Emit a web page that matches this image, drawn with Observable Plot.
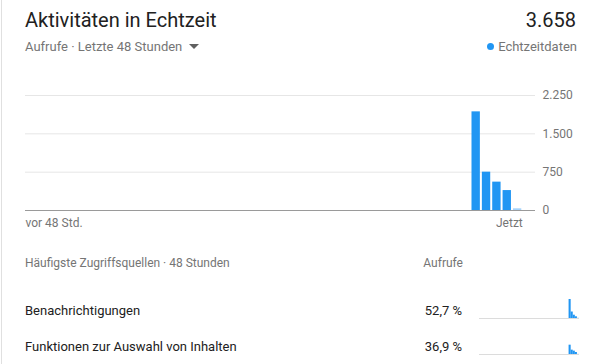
<!DOCTYPE html>
<html><head><meta charset="utf-8">
<script src="https://cdn.jsdelivr.net/npm/d3@7"></script>
<script src="https://cdn.jsdelivr.net/npm/@observablehq/plot@0.6"></script>
<style>
html,body{margin:0;padding:0;background:#fff;}
#card{position:relative;width:593px;height:364px;overflow:hidden;font-family:Roboto,"Noto Sans",sans-serif;background:#fff;}
.abs{position:absolute;white-space:nowrap;}
.border{position:absolute;left:1px;top:0;width:1px;height:364px;background:#e0e0e0;}
.title{left:25px;top:7px;font-size:20px;line-height:26px;color:#212121;}
.total{right:17px;top:7px;font-size:20px;line-height:26px;color:#212121;}
.sub{left:25px;top:38px;font-size:13px;line-height:18px;color:#757575;}
.tri{display:inline-block;width:0;height:0;border-left:5px solid transparent;border-right:5px solid transparent;border-top:5px solid #606060;margin-left:7px;vertical-align:2px;}
.legend{right:16px;top:38px;font-size:13px;line-height:18px;color:#757575;}
.dot{display:inline-block;width:7px;height:7px;border-radius:50%;background:#2196f3;margin-right:4px;vertical-align:1px;}
.hdr{top:255px;font-size:12px;line-height:16px;color:#757575;}
.row{font-size:13px;line-height:18px;color:#212121;}
</style></head>
<body>
<div id="card">
  <div class="border"></div>
  <div class="abs title" id="title"></div>
  <div class="abs total" id="total"></div>
  <div class="abs sub"><span id="sub"></span><span class="tri"></span></div>
  <div class="abs legend"><span class="dot"></span><span id="legend"></span></div>
  <div id="main" class="abs" style="left:0;top:80px;"></div>
  <div class="abs hdr" id="hdrL" style="left:25px;"></div>
  <div class="abs hdr" id="hdrR" style="right:130px;"></div>
  <div class="abs row" id="r1l" style="left:25px;top:302px;"></div>
  <div class="abs row" id="r1p" style="right:131px;top:302px;"></div>
  <div id="s1" class="abs" style="left:479px;top:295px;"></div>
  <div class="abs row" id="r2l" style="left:25px;top:338px;"></div>
  <div class="abs row" id="r2p" style="right:131px;top:338px;"></div>
  <div id="s2" class="abs" style="left:479px;top:331px;"></div>
</div>
<script>
const titleText = "Aktivitäten in Echtzeit";
const totalText = "3.658";
const subtitleText = "Aufrufe · Letzte 48 Stunden";
const legendText = "Echtzeitdaten";
const xLabels = ["vor 48 Std.", "Jetzt"];
const yTicks = [0, 750, 1500, 2250];
// views per hour, oldest (48 h ago) to current hour
const views = [0,0,0,0,0,0,0,0,0,0,0,0,0,0,0,0,0,0,0,0,0,0,0,0,
               0,0,0,0,0,0,0,0,0,0,0,0,0,0,0,0,0,0,0,1930,750,555,390,33];
const sourceHeader = ["Häufigste Zugriffsquellen · 48 Stunden", "Aufrufe"];
const sources = ["Benachrichtigungen", "Funktionen zur Auswahl von Inhalten"];
const sourceShares = ["52,7 %", "36,9 %"];
const spark1 = [0,0,0,0,0,0,0,0,0,0,0,0,0,0,0,0,0,0,0,0,0,0,0,0,
                0,0,0,0,0,0,0,0,0,0,0,0,0,0,0,0,0,0,0,1182,404,205,106,20];
const spark2 = [0,0,0,0,0,0,0,0,0,0,0,0,0,0,0,0,0,0,0,0,0,0,0,0,
                0,0,0,0,0,0,0,0,0,0,0,0,0,0,0,0,0,0,0,580,270,210,125,12];

const blue = "#2196f3", light = "#a6d3fa";
const fmt = d3.formatLocale({decimal: ",", thousands: ".", grouping: [3], currency: ["", " €"]}).format(",");

document.getElementById("title").textContent = titleText;
document.getElementById("total").textContent = totalText;
document.getElementById("sub").textContent = subtitleText;
document.getElementById("legend").textContent = legendText;
document.getElementById("hdrL").textContent = sourceHeader[0];
document.getElementById("hdrR").textContent = sourceHeader[1];
document.getElementById("r1l").textContent = sources[0];
document.getElementById("r2l").textContent = sources[1];
document.getElementById("r1p").textContent = sourceShares[0];
document.getElementById("r2p").textContent = sourceShares[1];

const n = views.length;
const toRows = arr => arr.map((v, i) => ({i, v, current: i === n - 1}));
const data = toRows(views);

const main = Plot.plot({
  width: 593, height: 160,
  marginLeft: 25, marginRight: 58, marginTop: 15, marginBottom: 30,
  style: {fontFamily: "Roboto, sans-serif", fontSize: "12px", color: "#757575", background: "transparent", overflow: "visible"},
  x: {type: "linear", domain: [0, n], range: [25, 522.3], axis: null},
  y: {domain: [0, 2250], axis: null},
  marks: [
    Plot.ruleY(yTicks.filter(d => d > 0), {stroke: "#e6e6e6"}),
    Plot.rectY(data.filter(d => !d.current && d.v > 0), {x1: "i", x2: d => d.i + 1, y: "v", fill: blue, insetLeft: 1, insetRight: 1}),
    Plot.rectY(data.filter(d => d.current), {x1: "i", x2: d => d.i + 1, y: "v", fill: light, insetLeft: 1, insetRight: 1}),
    Plot.ruleY([0], {stroke: "#9a9a9a"}),
    Plot.axisY({anchor: "right", ticks: yTicks, tickSize: 0, tickPadding: 7, tickFormat: fmt, fontSize: 12, fill: "#757575", label: null}),
    Plot.text([xLabels[0]], {x: 0, y: 0, text: d => d, textAnchor: "start", dy: 13, fontSize: 12, fill: "#757575"}),
    Plot.text([xLabels[1]], {x: n, y: 0, text: d => d, textAnchor: "end", dy: 13, fontSize: 12, fill: "#757575"})
  ]
});
document.getElementById("main").appendChild(main);

const sparkMax = d3.max([...spark1, ...spark2]);
function spark(arr) {
  const rows = toRows(arr);
  return Plot.plot({
    width: 100, height: 24, marginLeft: 0, marginRight: 0, marginTop: 4, marginBottom: 1,
    style: {background: "transparent", overflow: "visible"},
    x: {type: "linear", domain: [0, n], axis: null},
    y: {domain: [0, sparkMax], axis: null},
    marks: [
      Plot.ruleY([0], {stroke: "#dcdcdc"}),
      Plot.rectY(rows.filter(d => !d.current && d.v > 0), {x1: "i", x2: d => d.i + 1, y: "v", fill: blue}),
      Plot.rectY(rows.filter(d => d.current), {x1: "i", x2: d => d.i + 1, y: "v", fill: light})
    ]
  });
}
document.getElementById("s1").appendChild(spark(spark1));
document.getElementById("s2").appendChild(spark(spark2));
</script>
</body></html>
